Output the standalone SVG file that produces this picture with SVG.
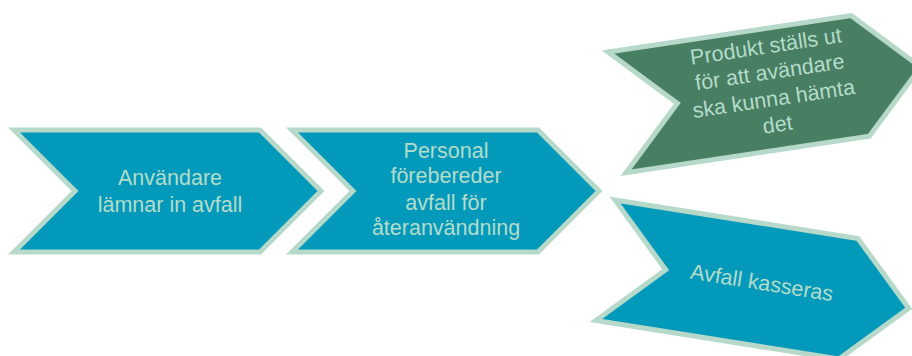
<svg xmlns="http://www.w3.org/2000/svg" width="912" height="356" viewBox="0 0 912 356">
<defs>
<style>
.chev{stroke:#b6d9c9;stroke-width:5;stroke-linejoin:miter;stroke-miterlimit:10}
.teal{fill:#0399ba}
.green{fill:#487e62}
.lbl{font-family:"Liberation Sans",Arial,sans-serif;font-size:21.5px;fill:#b3dccb;text-anchor:middle}
</style>
<path id="shape" d="M0,0 L246,0 L307,61 L246,122 L0,122 L61,61 Z"/>
</defs>
<rect width="912" height="356" fill="#ffffff"/>
<g id="connectors"></g>
<g id="n1" transform="translate(14,130)">
<use href="#shape" class="chev teal"/>
<text class="lbl" x="156" y="55">Användare</text>
<text class="lbl" x="156" y="82">lämnar in avfall</text>
</g>
<g id="n2" transform="translate(292,130)">
<use href="#shape" class="chev teal"/>
<text class="lbl" x="154" y="28">Personal</text>
<text class="lbl" x="154" y="53">förebereder</text>
<text class="lbl" x="154" y="80">avfall för</text>
<text class="lbl" x="154" y="105">återanvändning</text>
</g>
<g id="n3" transform="translate(608,52) rotate(-8.5)">
<use href="#shape" class="chev green"/>
<text class="lbl" x="157" y="25">Produkt ställs ut</text>
<text class="lbl" x="157" y="51">för att avändare</text>
<text class="lbl" x="157" y="78">ska kunna hämta</text>
<text class="lbl" x="157" y="104">det</text>
</g>
<g id="n4" transform="translate(615,200) rotate(9)">
<use href="#shape" class="chev teal"/>
<text class="lbl" x="158" y="66">Avfall kasseras</text>
</g>
</svg>
